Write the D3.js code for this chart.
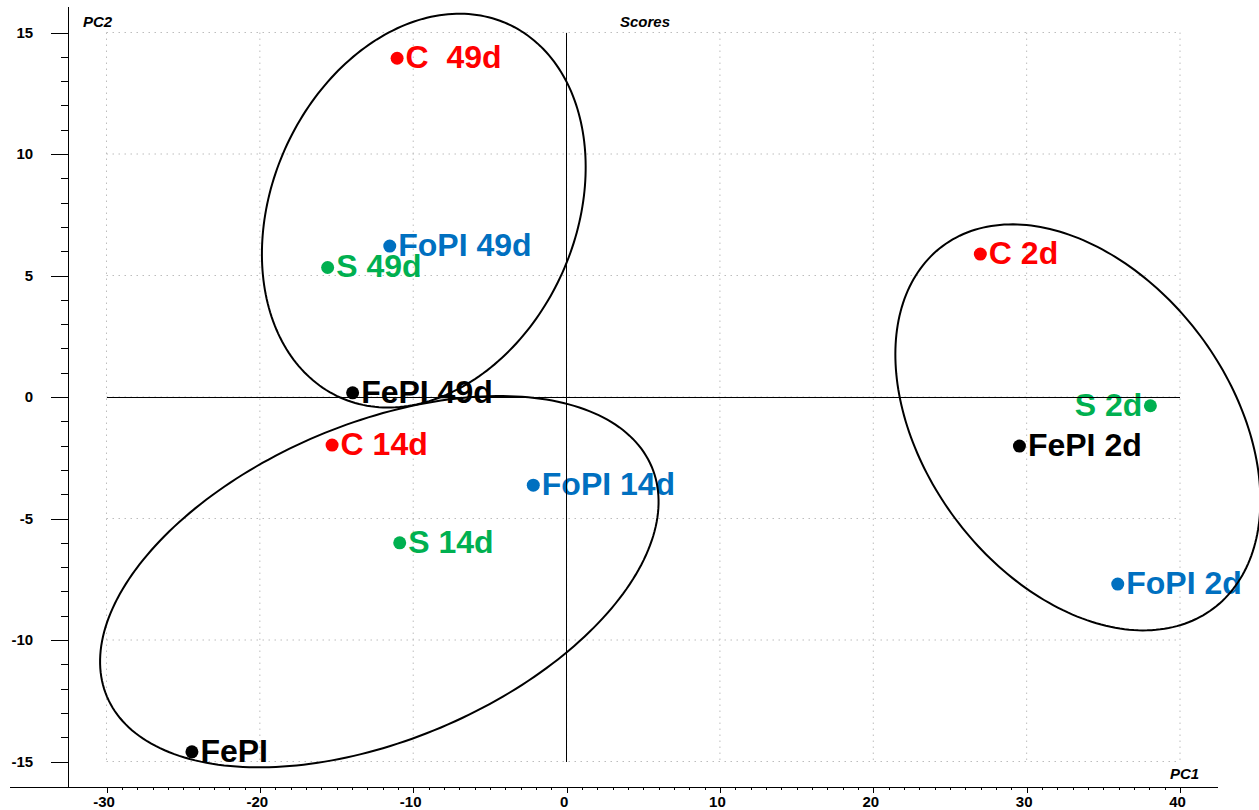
<!DOCTYPE html>
<html>
<head>
<meta charset="utf-8">
<script src="https://cdn.jsdelivr.net/npm/d3@7"></script>
<style>
  body { margin: 0; background: #fff; }
  text { font-family: 'Liberation Sans', Arial, sans-serif; }
  .axis text { font-size: 15px; font-weight: bold; fill: #000; }
  .axis line, .axis path { stroke: #000; shape-rendering: crispEdges; }
  .grid line { stroke: #bdbdbd; stroke-dasharray: 1.5,4.5; }
  .label { font-size: 32px; font-weight: bold; white-space: pre; }
  .title { font-size: 15px; font-weight: bold; font-style: italic; }
</style>
</head>
<body>
<script>
// scores
const samples = ['C  49d', 'FoPI 49d', 'S 49d', 'FePI 49d', 'C 14d', 'FoPI 14d', 'S 14d', 'FePI', 'C 2d', 'S 2d', 'FePI 2d', 'FoPI 2d'];
const groups = ['C', 'FoPI', 'S', 'FePI', 'C', 'FoPI', 'S', 'FePI', 'C', 'S', 'FePI', 'FoPI'];
const pc1 = [-11.05, -11.53, -15.58, -13.95, -15.29, -2.17, -10.88, -24.43, 26.98, 38.07, 29.53, 35.94];
const pc2 = [13.94, 6.21, 5.33, 0.17, -1.98, -3.63, -6.00, -14.60, 5.88, -0.36, -2.02, -7.70];

// ellipses: centre + two conjugate semi-diameters, in score units
const ellipseCx = [-9.31, -12.21, 33.34];
const ellipseCy = [7.67, -7.60, -1.25];
const ellipseU = [[5.45, 7.69], [17.76, 4.73], [8.82, -7.46]];
const ellipseV = [[9.04, -2.55], [4.02, -6.00], [-7.99, -3.76]];

const xTicks = [-30, -20, -10, 0, 10, 20, 30, 40];
const yTicks = [-15, -10, -5, 0, 5, 10, 15];

const colors = { C: '#ff0000', FoPI: '#0070c0', S: '#00b050', FePI: '#000000' };

const width = 1259;
const height = 810;

const svg = d3.select('body').append('svg')
  .attr('width', width)
  .attr('height', height);

const x = d3.scaleLinear().domain([-30, 40]).range([106.5, 1180]);
const y = d3.scaleLinear().domain([-15, 15]).range([761.5, 32.5]);

// where the two axes sit, in score units
const axisX = -32.5;
const axisY = -16.05;

// grid
const grid = svg.append('g').attr('class', 'grid');
grid.selectAll('.gx').data(xTicks).join('line')
  .attr('x1', d => x(d)).attr('x2', d => x(d))
  .attr('y1', y(15)).attr('y2', y(-15));
grid.selectAll('.gy').data(yTicks).join('line')
  .attr('x1', x(-30)).attr('x2', x(40))
  .attr('y1', d => y(d)).attr('y2', d => y(d));

// x axis, minor then major ticks
const xg = svg.append('g')
  .attr('class', 'axis')
  .attr('transform', `translate(0, ${y(axisY)})`);
xg.append('g')
  .call(d3.axisBottom(x).tickValues(d3.range(-30, 41, 1)).tickSize(3).tickFormat(''))
  .call(g => g.select('.domain').remove());
xg.append('g')
  .call(d3.axisBottom(x).tickValues(xTicks).tickSize(6).tickPadding(3).tickFormat(d => String(d)))
  .call(g => g.select('.domain').remove())
  .call(g => g.selectAll('text').attr('dx', -3));
xg.append('line')
  .attr('x1', x(-36.3)).attr('x2', x(42.5))
  .attr('stroke', '#000');

// y axis
const yg = svg.append('g')
  .attr('class', 'axis')
  .attr('transform', `translate(${x(axisX)}, 0)`);
yg.append('g')
  .call(d3.axisLeft(y).tickValues(d3.range(-15, 16, 1)).tickSize(7).tickFormat(''))
  .call(g => g.select('.domain').remove());
yg.append('g')
  .call(d3.axisLeft(y).tickValues(yTicks).tickSize(17).tickPadding(18).tickFormat(d => String(d)))
  .call(g => g.select('.domain').remove());
yg.append('line')
  .attr('y1', y(16.05)).attr('y2', y(axisY))
  .attr('stroke', '#000');

// titles
svg.append('text').attr('class', 'title').attr('x', 83).attr('y', 26.5).text('PC2');
svg.append('text').attr('class', 'title').attr('x', 620).attr('y', 26.5).text('Scores');
svg.append('text').attr('class', 'title').attr('x', 1170).attr('y', 779).text('PC1');

// points + labels
const data = samples.map((s, i) => ({ label: s, group: groups[i], pc1: pc1[i], pc2: pc2[i] }));

const pts = svg.append('g').selectAll('g').data(data).join('g')
  .attr('transform', d => `translate(${x(d.pc1)}, ${y(d.pc2)})`);
pts.append('circle')
  .attr('r', 6.5)
  .attr('fill', d => colors[d.group]);
pts.append('text')
  .attr('class', 'label')
  .attr('fill', d => colors[d.group])
  .attr('text-anchor', d => d.label === 'S 2d' ? 'end' : 'start')
  .attr('x', d => d.label === 'S 2d' ? -8 : 8.5)
  .attr('y', 10)
  .text(d => d.label);

// zero lines
svg.append('line')
  .attr('x1', x(-30)).attr('x2', x(40))
  .attr('y1', y(0)).attr('y2', y(0))
  .attr('stroke', '#000').attr('shape-rendering', 'crispEdges');
svg.append('line')
  .attr('x1', x(0)).attr('x2', x(0))
  .attr('y1', y(15)).attr('y2', y(-15))
  .attr('stroke', '#000').attr('shape-rendering', 'crispEdges');

// group ellipses
const ellipseLine = d3.line()
  .x(p => x(p[0]))
  .y(p => y(p[1]))
  .curve(d3.curveLinearClosed);

const angles = d3.range(0, 2 * Math.PI, Math.PI / 120);
const ellipses = ellipseCx.map((cx, i) => angles.map(t => [
  cx + ellipseU[i][0] * Math.cos(t) + ellipseV[i][0] * Math.sin(t),
  ellipseCy[i] + ellipseU[i][1] * Math.cos(t) + ellipseV[i][1] * Math.sin(t)
]));

svg.append('g').selectAll('path').data(ellipses).join('path')
  .attr('d', ellipseLine)
  .attr('fill', 'none')
  .attr('stroke', '#000')
  .attr('stroke-width', 2);
</script>
</body>
</html>
